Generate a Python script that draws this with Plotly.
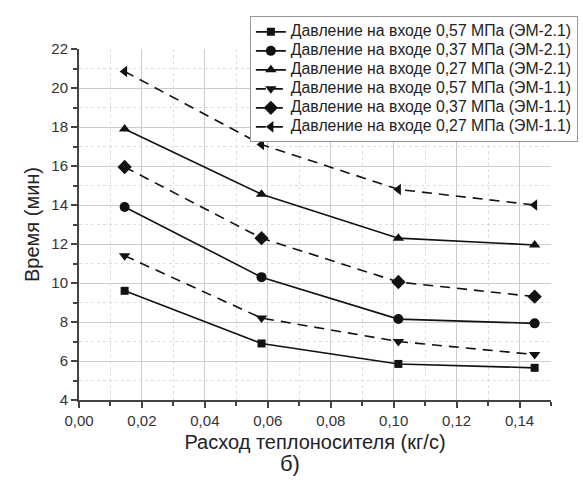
import plotly.graph_objects as go

# Flow rate of the heat carrier, kg/s
flow = [0.0145, 0.058, 0.1015, 0.1448]

# Heating time, minutes
em21_057 = [9.6, 6.9, 5.85, 5.65]
em21_037 = [13.9, 10.3, 8.15, 7.93]
em21_027 = [17.9, 14.55, 12.3, 11.95]
em11_057 = [11.4, 8.2, 7.0, 6.33]
em11_037 = [15.95, 12.3, 10.05, 9.3]
em11_027 = [20.85, 17.1, 14.8, 14.0]

names = [
    "Давление на входе 0,57 МПа (ЭМ-2.1)",
    "Давление на входе 0,37 МПа (ЭМ-2.1)",
    "Давление на входе 0,27 МПа (ЭМ-2.1)",
    "Давление на входе 0,57 МПа (ЭМ-1.1)",
    "Давление на входе 0,37 МПа (ЭМ-1.1)",
    "Давление на входе 0,27 МПа (ЭМ-1.1)",
]
series = [em21_057, em21_037, em21_027, em11_057, em11_037, em11_027]
symbols = ["square", "circle", "triangle-up", "triangle-down", "diamond", "triangle-left"]
dashes = ["solid", "solid", "solid", "10px,7px", "10px,7px", "10px,7px"]
sizes = [8, 10, 10, 10, 11, 10]

# Legend rows are packed tightly, with the label text set larger than the row pitch
legend_label = '<span style="font-size:15.8px">{}</span>'

fig = go.Figure()
for name, ys, sym, dash, sz in zip(names, series, symbols, dashes, sizes):
    fig.add_trace(go.Scatter(
        x=flow, y=ys, name=legend_label.format(name), mode="lines+markers",
        line=dict(color="#111111", width=1.6, dash=dash),
        marker=dict(symbol=sym, size=sz, color="#111111"),
    ))

font = "Liberation Sans, Arial, sans-serif"
fig.update_layout(
    width=583, height=483,
    margin=dict(l=79, r=32, t=49, b=83, autoexpand=False),
    paper_bgcolor="white", plot_bgcolor="white",
    separators=", ",
    font=dict(family=font, size=14, color="#333333"),
    showlegend=True,
    legend=dict(
        x=0.362, y=1.093, xanchor="left", yanchor="top",
        bgcolor="white", bordercolor="#999999", borderwidth=1,
        font=dict(family=font, size=11.5, color="#222222"),
        tracegroupgap=0, itemwidth=30,
    ),
)
fig.update_xaxes(
    range=[0, 0.15], dtick=0.02, tick0=0, tickformat=".2f",
    showline=True, linecolor="#444444", linewidth=2,
    ticks="outside", ticklen=6, tickwidth=2, tickcolor="#444444",
    showgrid=True, gridcolor="#cccccc", gridwidth=1, zeroline=False,
    tickfont=dict(size=15, color="#333333"),
    minor=dict(dtick=0.01, ticks="outside", ticklen=4, tickwidth=2,
               tickcolor="#444444", showgrid=True, gridcolor="#dddddd", griddash="dot"),
    title=dict(text="Расход теплоносителя (кг/с)", font=dict(size=20, color="#222222"), standoff=7),
)
fig.update_yaxes(
    range=[4, 22], dtick=2, tick0=4,
    showline=True, linecolor="#444444", linewidth=2,
    ticks="outside", ticklen=6, tickwidth=2, tickcolor="#444444",
    showgrid=True, gridcolor="#cccccc", gridwidth=1, zeroline=False,
    tickfont=dict(size=15, color="#333333"),
    minor=dict(dtick=1, ticks="outside", ticklen=4, tickwidth=2,
               tickcolor="#444444", showgrid=True, gridcolor="#dddddd", griddash="dot"),
    title=dict(text="Время (мин)", font=dict(size=20, color="#222222"), standoff=6),
)
fig.add_annotation(
    text="б)", xref="paper", yref="paper", x=0.447, y=-0.18,
    xanchor="center", yanchor="middle", showarrow=False,
    font=dict(family=font, size=22, color="#222222"),
)
fig.write_html("out.html")
